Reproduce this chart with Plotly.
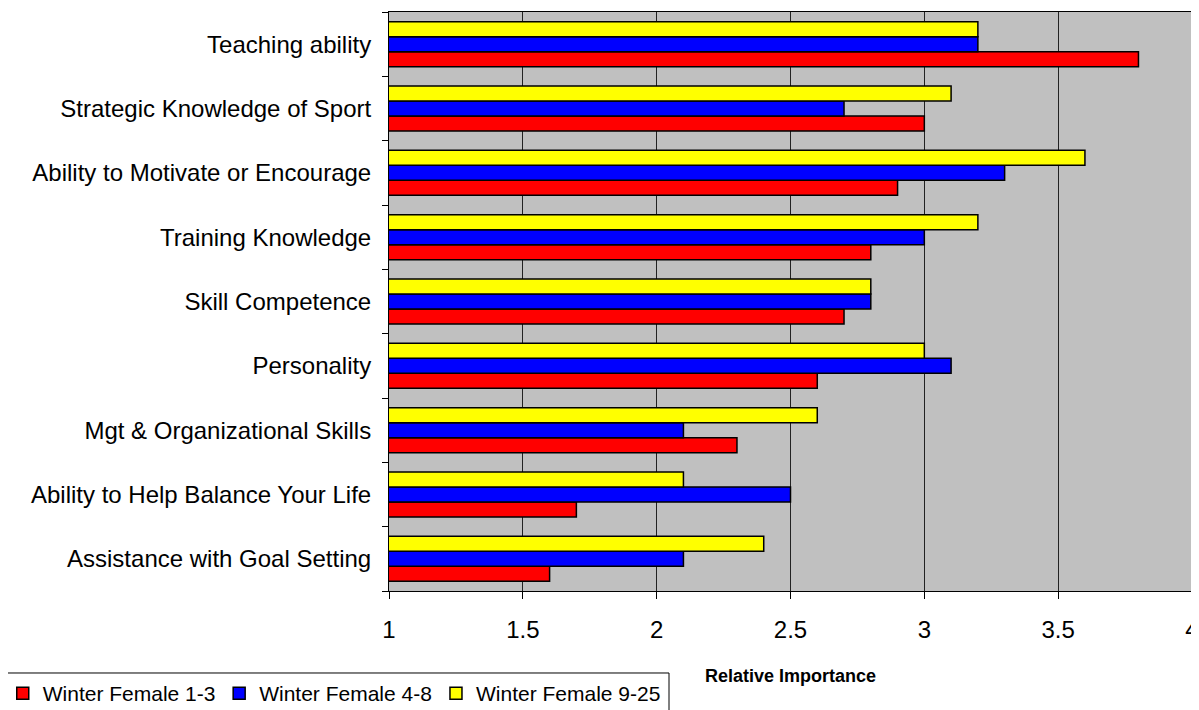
import plotly.graph_objects as go

categories = [
    "Assistance with Goal Setting",
    "Ability to Help Balance Your Life",
    "Mgt & Organizational Skills",
    "Personality",
    "Skill Competence",
    "Training Knowledge",
    "Ability to Motivate or Encourage",
    "Strategic Knowledge of Sport",
    "Teaching ability",
]
female_1_3 = [1.6, 1.7, 2.3, 2.6, 2.7, 2.8, 2.9, 3.0, 3.8]
female_4_8 = [2.1, 2.5, 2.1, 3.1, 2.8, 3.0, 3.3, 2.7, 3.2]
female_9_25 = [2.4, 2.1, 2.6, 3.0, 2.8, 3.2, 3.6, 3.1, 3.2]
series_names = ["Winter Female 1-3", "Winter Female 4-8", "Winter Female 9-25"]
series_colors = ["#FF0000", "#0000FF", "#FFFF00"]
x_ticks = [1, 1.5, 2, 2.5, 3, 3.5, 4]

legend_ids = ["legend", "legend2", "legend3"]
legend_x = [-0.481, -0.2115, 0.0585]

fig = go.Figure()
for name, vals, col, lid in zip(series_names, [female_1_3, female_4_8, female_9_25],
                                 series_colors, legend_ids):
    fig.add_trace(go.Bar(
        y=categories, x=vals, name=name, orientation="h", legend=lid,
        marker=dict(color=col, line=dict(color="black", width=1.5)),
    ))

legend_style = dict(
    orientation="h", y=-0.1416, xanchor="left", yanchor="top",
    borderwidth=0, bgcolor="rgba(0,0,0,0)",
    font=dict(size=21), itemwidth=30,
)

fig.update_layout(
    width=1191, height=702,
    margin=dict(l=381, r=7, t=4, b=119, autoexpand=False),
    barmode="group", bargap=0.3, bargroupgap=0,
    plot_bgcolor="#C0C0C0", paper_bgcolor="white",
    font=dict(family="Liberation Sans, Arial, sans-serif", color="black"),
    showlegend=True,
    legend=dict(x=legend_x[0], **legend_style),
    legend2=dict(x=legend_x[1], **legend_style),
    legend3=dict(x=legend_x[2], **legend_style),
    shapes=[dict(
        type="rect", xref="paper", yref="paper",
        x0=-0.4757, x1=0.3487, y0=-0.1416, y1=-0.215,
        line=dict(color="black", width=1), fillcolor="rgba(0,0,0,0)",
        layer="below",
    )],
)
fig.update_xaxes(
    range=[1, 4], tickvals=x_ticks, ticktext=[str(v) for v in x_ticks],
    showgrid=True, gridcolor="#222222", gridwidth=1,
    showline=True, linecolor="black", linewidth=1, mirror=True,
    ticks="outside", ticklen=7, tickcolor="black", ticklabelstandoff=10,
    tickfont=dict(size=24), zeroline=False,
    title=dict(text="<b>Relative Importance</b>", font=dict(size=18), standoff=27),
)
fig.update_yaxes(
    categoryorder="array", categoryarray=categories,
    showline=True, linecolor="black", linewidth=1, mirror=True,
    ticks="outside", ticklen=6, tickcolor="black", tickson="boundaries",
    tickfont=dict(size=24), showgrid=False, ticklabelstandoff=12,
)

fig.write_html("out.html")
